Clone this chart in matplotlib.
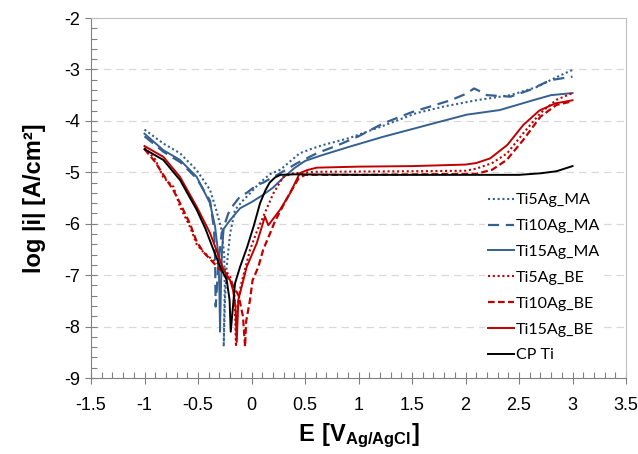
import matplotlib
matplotlib.use("Agg")
import matplotlib.pyplot as plt

# ---------------- data (E [V], log|i|) ----------------
ti5ag_ma_E = [-1.0, -0.824, -0.668, -0.512, -0.388, -0.33, -0.28, -0.255, -0.25, -0.26,
              -0.248, -0.232, -0.2, -0.154, -0.08, -0.014, 0.08, 0.17, 0.27, 0.36, 0.45,
              0.58, 0.67, 0.92, 1.2, 1.54, 1.8, 2.1, 2.42, 2.67, 2.85, 3.0]
ti5ag_ma_L = [-4.17, -4.44, -4.63, -4.96, -5.34, -5.73, -6.12, -6.6, -7.2, -8.39,
              -7.48, -6.84, -6.19, -5.73, -5.55, -5.41, -5.2, -5.04, -4.95, -4.79, -4.63,
              -4.53, -4.47, -4.33, -4.12, -3.85, -3.72, -3.6, -3.5, -3.34, -3.15, -3.01]

ti10ag_ma_E = [-1.0, -0.824, -0.668, -0.512, -0.388, -0.35, -0.34, -0.335,
               -0.31, -0.279, -0.217, -0.17, -0.107, -0.045, 0.049, 0.11, 0.266, 0.42,
               0.61, 0.8, 1.0, 1.23, 1.5, 1.86, 2.01, 2.08, 2.13, 2.2, 2.42, 2.6, 2.79, 3.0]
ti10ag_ma_L = [-4.3, -4.6, -4.8, -5.12, -5.55, -6.1, -6.7, -7.61,
               -6.8, -6.19, -5.8, -5.64, -5.47, -5.4, -5.25, -5.2, -5.02, -4.83,
               -4.63, -4.48, -4.3, -4.05, -3.83, -3.6, -3.47, -3.37, -3.42, -3.5, -3.53, -3.4, -3.21, -3.14]

ti15ag_ma_E = [-1.0, -0.824, -0.668, -0.512, -0.388, -0.34, -0.31, -0.3, -0.294,
               -0.285, -0.275, -0.26, -0.2, -0.107, 0.0, 0.1, 0.2, 0.3, 0.4, 0.5, 0.64,
               0.92, 1.23, 1.7, 2.01, 2.32, 2.63, 2.8, 3.0]
ti15ag_ma_L = [-4.25, -4.57, -4.76, -5.09, -5.6, -6.06, -6.6, -7.3, -8.10,
               -7.2, -6.5, -6.1, -5.93, -5.7, -5.58, -5.45, -5.3, -5.1, -4.92, -4.78, -4.68,
               -4.5, -4.31, -4.05, -3.88, -3.79, -3.6, -3.5, -3.46]

ti5ag_be_E = [-1.0, -0.9, -0.824, -0.73, -0.668, -0.575, -0.512, -0.45, -0.36, -0.266, -0.2,
              -0.16, -0.145, -0.13, -0.1, -0.05, -0.014, 0.05, 0.11, 0.204, 0.297, 0.39,
              0.6, 1.5, 2.0, 2.1, 2.25, 2.39, 2.54, 2.7, 2.85, 3.0]
ti5ag_be_L = [-4.52, -4.75, -5.1, -5.28, -5.67, -6.06, -6.4, -6.55, -6.71, -6.84, -7.03,
              -7.3, -8.39, -7.6, -7.2, -6.8, -6.51, -6.15, -5.86, -5.41, -5.09, -5.02,
              -4.99, -4.98, -4.97, -4.93, -4.82, -4.63, -4.24, -3.85, -3.59, -3.46]

ti10ag_be_E = [-1.0, -0.9, -0.824, -0.73, -0.668, -0.575, -0.512, -0.45, -0.36, -0.266, -0.2,
               -0.12, -0.08, -0.06, -0.05, -0.014, 0.01, 0.064, 0.11, 0.173, 0.22, 0.27,
               0.36, 0.44, 0.5, 1.0, 2.1, 2.25, 2.385, 2.54, 2.7, 2.85, 3.0]
ti10ag_be_L = [-4.55, -4.8, -5.05, -5.35, -5.6, -6.0, -6.35, -6.55, -6.75, -6.95, -7.1,
               -7.4, -7.8, -8.39, -7.9, -7.48, -7.1, -6.84, -6.5, -6.19, -5.95, -5.75,
               -5.4, -5.12, -5.05, -5.05, -5.03, -4.95, -4.76, -4.37, -3.92, -3.69, -3.62]

ti15ag_be_E = [-1.0, -0.824, -0.668, -0.512, -0.388, -0.33, -0.266, -0.2, -0.173, -0.15, -0.138,
               -0.123, -0.045, 0.049, 0.126, 0.157, 0.266, 0.36, 0.45, 0.516, 0.61, 1.0,
               1.5, 2.0, 2.1, 2.23, 2.39, 2.54, 2.69, 2.84, 3.0]
ti15ag_be_L = [-4.49, -4.70, -5.09, -5.67, -6.18, -6.5, -6.87, -7.1, -7.29, -7.6, -8.3,
               -7.48, -6.84, -6.38, -5.86, -6.03, -5.73, -5.41, -5.02, -4.96, -4.91, -4.89,
               -4.88, -4.85, -4.82, -4.73, -4.47, -4.08, -3.8, -3.66, -3.6]

cpti_E = [-1.0, -0.824, -0.668, -0.512, -0.43, -0.357, -0.29, -0.232, -0.205, -0.194,
          -0.154, -0.107, -0.04, 0.02, 0.08, 0.13, 0.17, 0.22, 0.27, 0.4, 1.0, 2.0, 2.5,
          2.7, 2.85, 3.0]
cpti_L = [-4.55, -4.76, -5.15, -5.73, -6.1, -6.5, -6.85, -7.09, -7.48, -8.10,
          -7.16, -6.84, -6.45, -6.05, -5.6, -5.35, -5.2, -5.1, -5.05, -5.04, -5.05, -5.05, -5.05,
          -5.02, -4.98, -4.88]

labels = ["Ti5Ag_MA", "Ti10Ag_MA", "Ti15Ag_MA", "Ti5Ag_BE", "Ti10Ag_BE", "Ti15Ag_BE", "CP Ti"]
x_ticks = [-1.5, -1, -0.5, 0, 0.5, 1, 1.5, 2, 2.5, 3, 3.5]
y_ticks = [-9, -8, -7, -6, -5, -4, -3, -2]

# ---------------- style ----------------
BLUE = "#35608F"
RED = "#C00000"
plt.rcParams["font.family"] = ["Liberation Sans", "DejaVu Sans"]
plt.rcParams["mathtext.fontset"] = "custom"
plt.rcParams["mathtext.rm"] = "Liberation Sans"
plt.rcParams["mathtext.bf"] = "Liberation Sans:bold"

fig = plt.figure(figsize=(6.38, 4.54), dpi=100)
ax = fig.add_axes([91/638, 1-378/454, (626-91)/638, (378-18)/454])

series = [
    (ti5ag_ma_E, ti5ag_ma_L, BLUE, (0, (1, 1.3)), 1.5),
    (ti10ag_ma_E, ti10ag_ma_L, BLUE, (0, (5, 3)), 1.6),
    (ti15ag_ma_E, ti15ag_ma_L, BLUE, "-", 1.4),
    (ti5ag_be_E, ti5ag_be_L, RED, (0, (1, 1.3)), 1.5),
    (ti10ag_be_E, ti10ag_be_L, RED, (0, (3, 1.5)), 1.6),
    (ti15ag_be_E, ti15ag_be_L, RED, "-", 1.4),
    (cpti_E, cpti_L, "black", "-", 1.4),
]
for (E, L, c, ls, lw), lab in zip(series, labels):
    ax.plot(E, L, color=c, linestyle=ls, linewidth=lw, label=lab)

ax.set_xlim(-1.5, 3.5)
ax.set_ylim(-9, -2)
ax.set_xticks(x_ticks)
ax.set_xticklabels([f"{t:g}" for t in x_ticks])
ax.set_yticks(y_ticks)
ax.set_yticklabels([f"{t:g}" for t in y_ticks])
ax.set_xticks([x/10 for x in range(-15, 36)], minor=True)
ax.set_yticks([y/5 for y in range(-45, -9)], minor=True)

for y in y_ticks[1:-1]:
    ax.axhline(y, color="#D9D9D9", linestyle=(0, (6, 4)), linewidth=0.9, zorder=0)

ax.tick_params(axis="both", which="major", direction="inout", length=8, width=0.8,
               color="#808080", labelsize=13, pad=4)
ax.tick_params(axis="both", which="minor", direction="in", length=4, width=0.8, color="#808080")
ax.tick_params(axis="x", which="major", pad=10)
for s in ["left", "bottom"]:
    ax.spines[s].set_color("#808080")
for s in ["top", "right"]:
    ax.spines[s].set_color("#BFBFBF")

ax.set_xlabel(r"$\mathbf{E\ [V_{Ag/AgCl}]}$", fontsize=17, labelpad=5)
ax.set_ylabel("log |i| [A/cm²]", fontsize=17, fontweight="bold", labelpad=13)

leg = ax.legend(loc="upper left", bbox_to_anchor=((485-91)/535, (378-190)/360),
                frameon=True, facecolor="white", edgecolor="none", framealpha=1,
                prop={"family": "Lato", "size": 11.5}, handlelength=1.6,
                handletextpad=0.15, labelspacing=0.73, borderpad=0.2, borderaxespad=0)

fig.savefig("out.png", dpi=100)
